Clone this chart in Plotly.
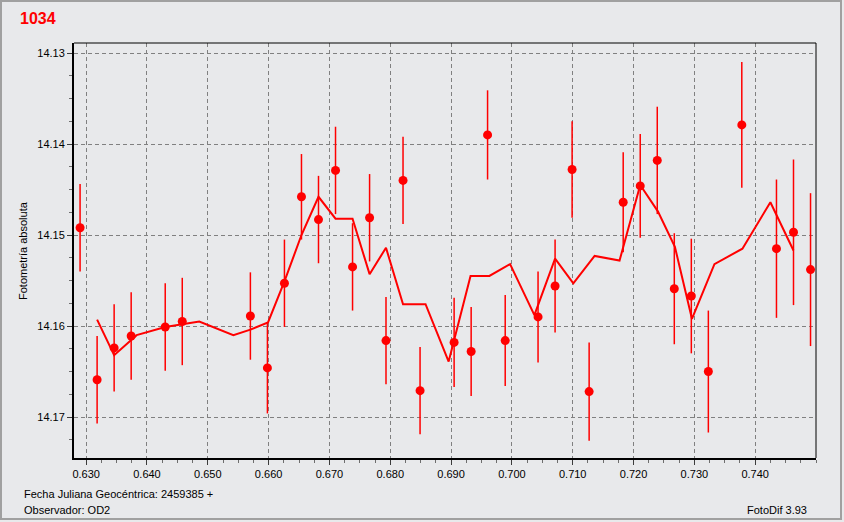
import plotly.graph_objects as go

# Observations (JD fraction, magnitude, error)
obs_x = [0.6290, 0.6318, 0.6346, 0.6374, 0.6430, 0.6458, 0.6570, 0.6598, 0.6626, 0.6654,
         0.6682, 0.6710, 0.6738, 0.6766, 0.6793, 0.6821, 0.6849, 0.6905, 0.6933, 0.6960,
         0.6989, 0.7043, 0.7071, 0.7099, 0.7127, 0.7183, 0.7211, 0.7239, 0.7267, 0.7295,
         0.7323, 0.7378, 0.7435, 0.7463, 0.7491]
obs_y = [14.1492, 14.1659, 14.1624, 14.1611, 14.1601, 14.1595, 14.1589, 14.1646, 14.1553, 14.1458,
         14.1483, 14.1429, 14.1535, 14.1481, 14.1616, 14.1440, 14.1671, 14.1618, 14.1628, 14.1390,
         14.1616, 14.1590, 14.1556, 14.1428, 14.1672, 14.1464, 14.1446, 14.1418, 14.1559, 14.1567,
         14.1650, 14.1379, 14.1515, 14.1497, 14.1538]
obs_err = [0.0048, 0.0048, 0.0048, 0.0048, 0.0048, 0.0048, 0.0048, 0.0050, 0.0048, 0.0047,
           0.0048, 0.0048, 0.0048, 0.0048, 0.0048, 0.0048, 0.0048, 0.0049, 0.0049, 0.0049,
           0.0050, 0.0050, 0.0051, 0.0053, 0.0054, 0.0055, 0.0057, 0.0059, 0.0061, 0.0063,
           0.0067, 0.0069, 0.0076, 0.0080, 0.0084]

# Smoothed trend line
trend_x = [0.6318, 0.6346, 0.6383, 0.6430, 0.6458, 0.6486, 0.6542, 0.6570, 0.6599, 0.6626,
           0.6654, 0.6682, 0.6710, 0.6738, 0.6766, 0.6793, 0.6821, 0.6858, 0.6896, 0.6932,
           0.6963, 0.6997, 0.7037, 0.7071, 0.7101, 0.7136, 0.7177, 0.7211, 0.7240, 0.7268,
           0.7296, 0.7333, 0.7379, 0.7425, 0.7463]
trend_y = [14.1593, 14.1632, 14.1610, 14.1601, 14.1598, 14.1595, 14.1610, 14.1604, 14.1596, 14.1551,
           14.1500, 14.1458, 14.1482, 14.1482, 14.1543, 14.1514, 14.1576, 14.1576, 14.1639, 14.1545,
           14.1545, 14.1532, 14.1588, 14.1526, 14.1553, 14.1523, 14.1528, 14.1445, 14.1474, 14.1513,
           14.1592, 14.1532, 14.1515, 14.1464, 14.1517]

x_ticks = [0.63, 0.64, 0.65, 0.66, 0.67, 0.68, 0.69, 0.70, 0.71, 0.72, 0.73, 0.74]
y_ticks = [14.13, 14.14, 14.15, 14.16, 14.17]

BG = "rgb(232,233,235)"
RED = "rgb(255,0,0)"
FONT = "Liberation Sans, Arial, sans-serif"

W, H = 844, 522
L, R, T, B = 74, 28, 43, 64
PW, PH = W - L - R, H - T - B

def px(x):
    return (x - L) / PW

def py(y):
    return (H - B - y) / PH

fig = go.Figure()

fig.add_trace(go.Scatter(
    x=trend_x, y=trend_y, mode="lines",
    line=dict(color=RED, width=2), hoverinfo="skip", showlegend=False))

fig.add_trace(go.Scatter(
    x=obs_x, y=obs_y, mode="markers",
    marker=dict(color=RED, size=9, symbol="circle", line=dict(width=0)),
    error_y=dict(type="data", array=obs_err, visible=True, color=RED, thickness=1.5, width=0),
    showlegend=False))

axis_common = dict(
    showline=True, linecolor="black", linewidth=2, mirror=False,
    ticks="outside", ticklen=5, tickcolor="rgb(60,60,60)", tickwidth=1,
    showgrid=True, gridcolor="rgb(128,128,128)", gridwidth=1, griddash="4px,3px",
    zeroline=False, tickfont=dict(family=FONT, size=11, color="black"),
)

fig.update_xaxes(
    range=[0.628, 0.750], tickvals=x_ticks, tickformat=".3f",
    minor=dict(dtick=0.0025, tick0=0.63, ticks="outside", ticklen=3, tickcolor="rgb(110,110,110)", showgrid=False),
    **axis_common)
fig.update_yaxes(
    range=[14.1745, 14.1289], tickvals=y_ticks, tickformat=".2f",
    minor=dict(dtick=0.0025, tick0=14.13, ticks="outside", ticklen=3, tickcolor="rgb(110,110,110)", showgrid=False),
    **axis_common)

shapes = [
    # thin top and right frame of plot area
    dict(type="line", xref="paper", yref="paper", x0=0, x1=1, y0=1, y1=1, line=dict(color="black", width=1)),
    dict(type="line", xref="paper", yref="paper", x0=1, x1=1, y0=0, y1=1, line=dict(color="black", width=1)),
    # outer window frame
    dict(type="rect", xref="paper", yref="paper", x0=px(1), x1=px(841), y0=py(519), y1=py(1),
         line=dict(color="rgb(160,160,160)", width=2), layer="below"),
]

annotations = [
    dict(text="<b>1034</b>", x=px(18), y=py(19), xref="paper", yref="paper", xanchor="left", yanchor="middle",
         showarrow=False, font=dict(family=FONT, size=16, color=RED)),
    dict(text="Fotometría absoluta", x=px(22.5), y=0.5, xref="paper", yref="paper", xanchor="center", yanchor="middle",
         textangle=-90, showarrow=False, font=dict(family=FONT, size=11, color="black")),
    dict(text="Fecha Juliana Geocéntrica: 2459385 +", x=px(22), y=py(494), xref="paper", yref="paper",
         xanchor="left", yanchor="middle", showarrow=False, font=dict(family=FONT, size=11, color="black")),
    dict(text="Observador: OD2", x=px(22), y=py(510), xref="paper", yref="paper",
         xanchor="left", yanchor="middle", showarrow=False, font=dict(family=FONT, size=11, color="black")),
    dict(text="FotoDif 3.93", x=px(809), y=py(510), xref="paper", yref="paper",
         xanchor="right", yanchor="middle", showarrow=False, font=dict(family=FONT, size=11, color="black")),
]

fig.update_layout(
    width=W, height=H,
    margin=dict(l=L, r=R, t=T, b=B, pad=0),
    paper_bgcolor=BG, plot_bgcolor=BG,
    shapes=shapes, annotations=annotations,
    showlegend=False,
)

fig.write_html("out.html", config={"displayModeBar": False},
               post_script="document.body.style.margin='0';document.body.style.overflow='hidden';")
